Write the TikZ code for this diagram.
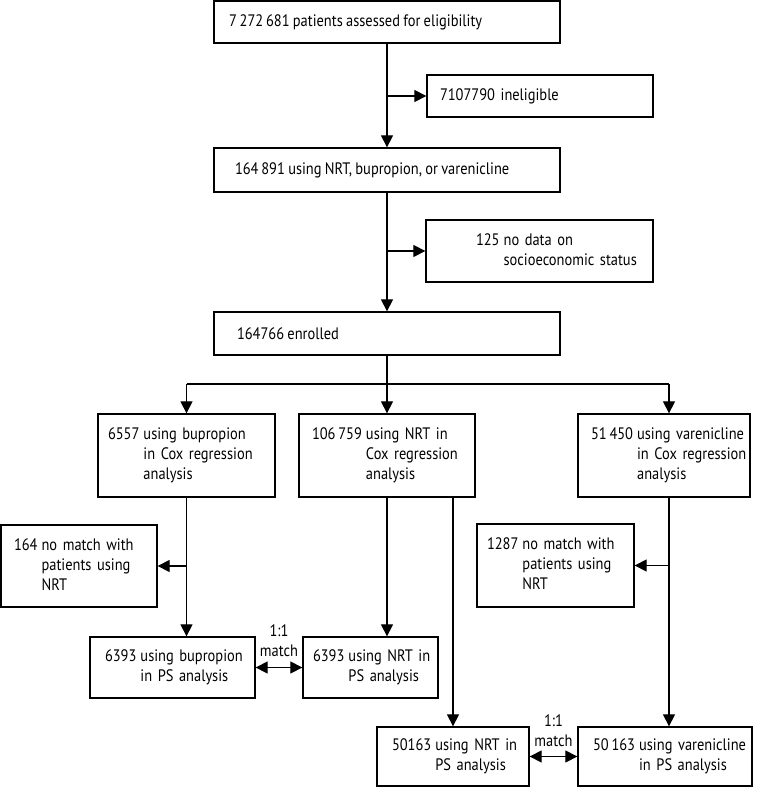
\documentclass[tikz,border=0pt]{standalone}
\usepackage{fontspec}
\setmainfont{PT Sans}[FakeStretch=0.87, WordSpace=0.85]
\usetikzlibrary{arrows.meta}
\newcommand{\numtext}[2]{\begin{tabular}{@{}l@{\hspace{4pt}}l@{}}#1 & #2\end{tabular}}

\begin{document}
\begin{tikzpicture}[x=1pt, y=-1pt, >={Triangle[length=12pt,width=12pt]}, line width=1.2pt,
	font=\fontsize{16.6}{20}\selectfont,
	box/.style={draw, line width=1.3pt, align=left, inner ysep=0pt, inner xsep=13pt},
	wide/.style={draw, line width=1.3pt, inner ysep=0pt, inner xsep=0pt, minimum width=346}]
	\useasboundingbox (0,0) rectangle (756,787);
	
	% top column
	\node[wide, minimum height=42] (elig) at (387,22) {\makebox[346pt][l]{\hspace*{15pt}7\,272\,681 patients assessed for eligibility}};
	\node[box, text width=200, minimum height=42] (inel) at (540,96) {7107790 ineligible};
	\node[wide, minimum height=44] (using) at (387,170) {\makebox[346pt][l]{\hspace*{21pt}164\,891 using NRT, bupropion, or varenicline}};
	\node[box, text width=201, minimum height=62] (socio) at (539.5,251) {\hspace*{37pt}\numtext{125}{no data on\\ & socioeconomic status}};
	\node[wide, minimum height=43] (enrol) at (387,333.5) {\makebox[346pt][l]{\hspace*{23pt}164766 enrolled}};
	
	% Cox regression
	\node[box, inner xsep=10pt, text width=157, minimum height=83] (bupcox) at (186.5,455.5) {\numtext{6557}{using bupropion\\ & in Cox regression\\ & analysis}};
	\node[box, text width=150, minimum height=83] (nrtcox) at (387,455.5) {\numtext{106\,759}{using NRT in\\ & Cox regression\\ & analysis}};
	\node[box, text width=146, minimum height=83] (varcox) at (664,455.5) {\numtext{51\,450}{using varenicline\\ & in Cox regression\\ & analysis}};
	
	% no match
	\node[box, text width=130, minimum height=82] (bupno) at (79,566) {\numtext{164}{no match with\\ & patients using\\ & NRT}};
	\node[box, inner xsep=10pt, text width=137, minimum height=83] (varno) at (555.5,565.5) {\numtext{1287}{no match with\\ & patients using\\ & NRT}};
	
	% PS analysis
	\node[box, inner xsep=15pt, text width=135, minimum height=61] (bupps) at (172.5,667.5) {\numtext{6393}{using bupropion\\ & in PS analysis}};
	\node[box, inner xsep=10pt, text width=115, minimum height=61] (nrtps1) at (370.5,667.5) {\numtext{6393}{using NRT in\\ & PS analysis}};
	\node[box, inner xsep=15pt, text width=122, minimum height=59] (nrtps2) at (453,756.5) {\numtext{50163}{using NRT in\\ & PS analysis}};
	\node[box, inner xsep=15pt, text width=144, minimum height=59] (varps) at (665,756.5) {\numtext{50\,163}{using varenicline\\ & in PS analysis}};
	
	\coordinate (split) at (387,384);
	\coordinate (rb) at (669,384);
	
	\draw[->] (elig) -- (using);
	\draw[->] (elig.south |- inel) -- (inel.west);
	\draw[->] (using) -- (enrol);
	\draw[->] (using.south |- socio) -- (socio.west);
	
	\draw (enrol.south) -- (split);
	\draw (bupcox.north |- split) -- (rb);
	\draw[->] (bupcox.north |- split) -- (bupcox.north);
	\draw[->] (split) -- (nrtcox.north);
	\draw[->] (rb) -- (rb |- varcox.north);
	
	\draw[->] (bupcox.south) -- (bupcox.south |- bupps.north);
	\draw[->] (bupcox.south |- bupno) -- (bupno.east);
	\draw[->] (nrtcox.south) -- (nrtcox.south |- nrtps1.north);
	\draw[->] (nrtps2.north |- nrtcox.south) -- (nrtps2.north);
	\draw[->] (rb |- varcox.south) -- (rb |- varps.north);
	\draw[->] (rb |- varno) -- (varno.east);
	
	\draw[<->] (bupps) -- (nrtps1);
	\draw[<->] (nrtps2) -- (varps);
	\node[align=center] (m1) at (279,641) {1:1\\match};
	\node[align=center] (m2) at (553.5,731) {1:1\\match};
\end{tikzpicture}
\end{document}
